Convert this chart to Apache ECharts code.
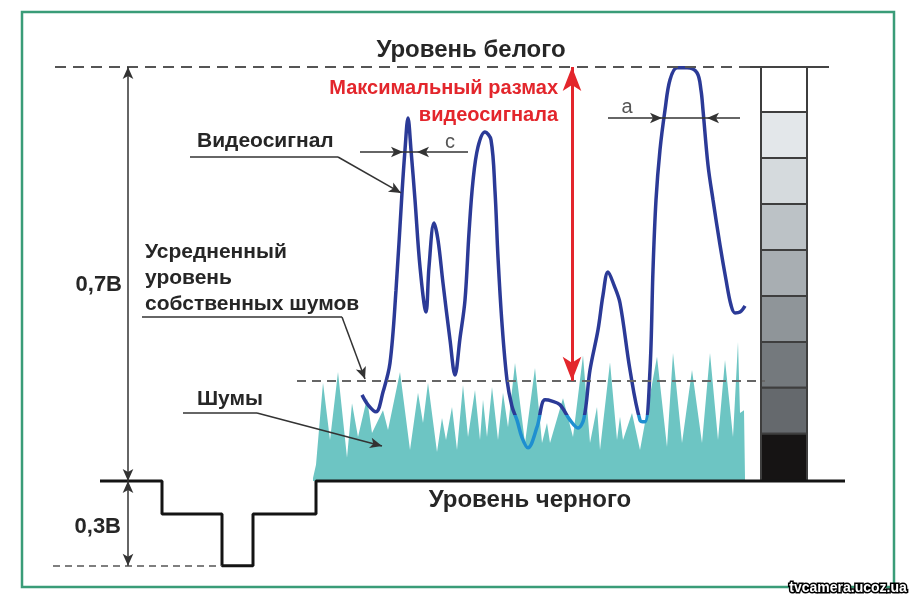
<!DOCTYPE html>
<html><head><meta charset="utf-8">
<script src="https://cdn.jsdelivr.net/npm/echarts@6/dist/echarts.min.js"></script>
<style>html,body{margin:0;padding:0;background:#fff;}#c{width:909px;height:597px;}</style>
</head><body><div id="c"></div>
<script>
// Horizontal axis: time along the TV line (arbitrary units). Vertical axis: level in IRE (black = 0, white = 100).
const signalPoints = [
  [362,20.8],[368,18.4],[376,16.7],[383,21.5],[390,28.5],[396,46.1],[402,69.6],[405,80],[408,87.7],[411,80],
  [415,67.9],[420,51.7],[426,40.8],[429,51.7],[434,62.3],[438,58.2],[443,47.8],[450,34.1],[455,25.6],[460,34.5],
  [465,43.7],[469,60],[473,72.5],[478,80.7],[485,84.3],[491,82.4],[495,70],[498,54],[502,38],[507,24.4],
  [512,18],[517,14.7],[522,10.5],[528,8],[537,13],[545,19.6],[552,19.3],[560,18.4],[570,14.7],[578,12.8],
  [584,15.2],[590,26.8],[598,36.5],[603,44.9],[608,50.5],[614,47.3],[620,43],[630,26.8],[640,14.7],[645,14.3],
  [650,26.8],[653,51],[656,67.9],[660,80],[665,89.6],[670,96.9],[677,99.8],[687,99.8],[697,98.6],[701,94.4],
  [703,89.6],[708,76.3],[713,67.9],[720,57],[726,48.6],[731,42.5],[735,40.6],[740,40.8],[745,42.3]
];
const noisePoints = [
  [313,0.7],[316,3.9],[323,23.7],[330,9.9],[338,26.3],[347,5.6],[352,18.8],[358,10.6],[367,20],[372,11.6],
  [383,17.1],[388,12.3],[400,26.3],[410,7.5],[418,21.3],[423,14],[428,23.7],[437,7],[442,15.2],[446,9.9],
  [452,17.9],[457,7.5],[463,23.2],[468,10.6],[475,22],[480,9.9],[483,19.6],[487,10.6],[492,22.7],[498,9.9],
  [503,21.3],[508,13],[515,28.5],[525,9.2],[535,27.3],[542,9.2],[547,14],[550,9.2],[563,20],[573,10.6],
  [583,30.4],[590,9.2],[597,17.9],[600,7.5],[610,28.7],[617,9.9],[620,15.5],[623,9.9],[632,16.4],[640,7.5],
  [657,30],[667,8.2],[673,30.9],[682,9.2],[692,26.8],[702,9.2],[710,30.9],[718,9.9],[725,29.2],[733,10.6],
  [738,33.6],[740,16.4],[744,17.1],[745,0.7]
];
const syncPoints = [[100,0],[162,0],[162,-8],[222,-8],[222,-20.5],[253,-20.5],[253,-8],[316,-8],[316,0],[845,0]];
const whiteLevel = 100;
const blackLevel = 0;
const noiseLevel = 24.2;
const syncTip = -20.5;
const grayBounds = [100, 89.1, 78.0, 66.9, 55.8, 44.7, 33.6, 22.5, 11.4, 0];
const grayColors = ['#ffffff','#e3e7ea','#d5dadd','#bcc2c6','#a8aeb2','#8f9599','#74797d','#65696d','#161414'];
const grayBarT = [761, 807];

const FONT = "'Liberation Sans', Arial, sans-serif";
const TXT = '#262626';

const grayData = grayColors.map((c, i) => [grayBarT[0], grayBarT[1], grayBounds[i], grayBounds[i + 1], i]);

function seg(a, b, s1, s2, size, style) {
  return [
    { coord: a, symbol: s1, symbolSize: size },
    { coord: b, symbol: s2, symbolSize: size, lineStyle: style }
  ];
}
const thin = { color: '#333', width: 1.5, type: 'solid' };
const AR = [8, 12];

const chart = echarts.init(document.getElementById('c'));
chart.setOption({
  animation: false,
  backgroundColor: '#ffffff',
  grid: { left: 0, right: 0, top: 0, bottom: 0 },
  xAxis: { type: 'value', min: 0, max: 909, show: false },
  yAxis: { type: 'value', min: -28.02, max: 116.18, show: false },
  visualMap: {
    show: false, type: 'piecewise', seriesIndex: 2, dimension: 1,
    pieces: [{ gte: -30, lt: 16, color: '#1e8fd0' }, { gte: 16, lte: 120, color: '#2b3a97' }]
  },
  series: [
    {
      type: 'custom', z: 1, silent: true,
      encode: { x: [0, 1], y: [2, 3] },
      data: grayData,
      renderItem(params, api) {
        const p0 = api.coord([api.value(0), api.value(2)]);
        const p1 = api.coord([api.value(1), api.value(3)]);
        return { type: 'rect', shape: { x: p0[0], y: p0[1], width: p1[0] - p0[0], height: p1[1] - p0[1] },
          style: { fill: grayColors[api.value(4)], stroke: '#3e3e3e', lineWidth: 2 } };
      }
    },
    {
      type: 'line', z: 2, silent: true, data: noisePoints, showSymbol: false, symbol: 'none',
      lineStyle: { width: 0 }, areaStyle: { color: '#6dc5c3', opacity: 1 }
    },
    {
      type: 'line', z: 3, silent: true, data: signalPoints, smooth: 0.35, showSymbol: false, symbol: 'none',
      lineStyle: { width: 3.5 }
    },
    {
      type: 'line', z: 4, silent: true, data: syncPoints, showSymbol: false, symbol: 'none',
      lineStyle: { color: '#141414', width: 3 },
      markLine: {
        silent: true, animation: false, label: { show: false }, emphasis: { disabled: true },
        data: [
          seg([55, whiteLevel], [775, whiteLevel], 'none', 'none', 0, { color: '#555', width: 2, type: [11, 7] }),
          seg([750, whiteLevel], [829, whiteLevel], 'none', 'none', 0, { color: '#444', width: 2, type: 'solid' }),
          seg([297, noiseLevel], [765, noiseLevel], 'none', 'none', 0, { color: '#666', width: 2, type: [9, 6] }),
          seg([53, syncTip], [222, syncTip], 'none', 'none', 0, { color: '#555', width: 1.5, type: [7, 5] }),
          seg([128, whiteLevel], [128, blackLevel], 'arrow', 'arrow', AR, thin),
          seg([128, blackLevel], [128, syncTip], 'arrow', 'arrow', AR, thin),
          seg([572, whiteLevel], [572, noiseLevel], 'arrow', 'arrow', [14, 24], { color: '#e3262c', width: 3, type: 'solid' }),
          seg([190, 78.26], [338, 78.26], 'none', 'none', 0, thin),
          seg([338, 78.26], [401, 69.57], 'none', 'arrow', AR, thin),
          seg([142, 39.61], [342, 39.61], 'none', 'none', 0, thin),
          seg([342, 39.61], [365, 24.64], 'none', 'arrow', AR, thin),
          seg([183, 16.43], [257, 16.43], 'none', 'none', 0, thin),
          seg([257, 16.43], [382, 8.45], 'none', 'arrow', AR, thin),
          seg([360, 79.47], [403, 79.47], 'none', 'arrow', AR, thin),
          seg([403, 79.47], [417, 79.47], 'none', 'none', 0, thin),
          seg([468, 79.47], [417, 79.47], 'none', 'arrow', AR, thin),
          seg([608, 87.68], [662, 87.68], 'none', 'arrow', AR, thin),
          seg([662, 87.68], [707, 87.68], 'none', 'none', 0, thin),
          seg([740, 87.68], [707, 87.68], 'none', 'arrow', AR, thin)
        ]
      }
    }
  ],
  graphic: [
    { type: 'rect', z: 100, shape: { x: 22, y: 12, width: 872, height: 575 },
      style: { fill: 'none', stroke: '#3a9c78', lineWidth: 2.5 } },
    { type: 'text', z: 100, x: 471, y: 50, style: { text: 'Уровень белого', font: 'bold 24px ' + FONT, fill: TXT, align: 'center', verticalAlign: 'middle' } },
    { type: 'text', z: 100, x: 530, y: 500, style: { text: 'Уровень черного', font: 'bold 24px ' + FONT, fill: TXT, align: 'center', verticalAlign: 'middle' } },
    { type: 'text', z: 100, x: 558, y: 88, style: { text: 'Максимальный размах', font: 'bold 20px ' + FONT, fill: '#e3262c', align: 'right', verticalAlign: 'middle' } },
    { type: 'text', z: 100, x: 558, y: 115, style: { text: 'видеосигнала', font: 'bold 20px ' + FONT, fill: '#e3262c', align: 'right', verticalAlign: 'middle' } },
    { type: 'text', z: 100, x: 197, y: 141, style: { text: 'Видеосигнал', font: 'bold 21px ' + FONT, fill: TXT, align: 'left', verticalAlign: 'middle' } },
    { type: 'text', z: 100, x: 145, y: 252, style: { text: 'Усредненный', font: 'bold 21px ' + FONT, fill: TXT, align: 'left', verticalAlign: 'middle' } },
    { type: 'text', z: 100, x: 145, y: 278, style: { text: 'уровень', font: 'bold 21px ' + FONT, fill: TXT, align: 'left', verticalAlign: 'middle' } },
    { type: 'text', z: 100, x: 145, y: 304, style: { text: 'собственных шумов', font: 'bold 21px ' + FONT, fill: TXT, align: 'left', verticalAlign: 'middle' } },
    { type: 'text', z: 100, x: 197, y: 399, style: { text: 'Шумы', font: 'bold 21px ' + FONT, fill: TXT, align: 'left', verticalAlign: 'middle' } },
    { type: 'text', z: 100, x: 122, y: 285, style: { text: '0,7В', font: 'bold 22px ' + FONT, fill: TXT, align: 'right', verticalAlign: 'middle' } },
    { type: 'text', z: 100, x: 121, y: 527, style: { text: '0,3В', font: 'bold 22px ' + FONT, fill: TXT, align: 'right', verticalAlign: 'middle' } },
    { type: 'text', z: 100, x: 450, y: 142, style: { text: 'c', font: '20px ' + FONT, fill: '#555', align: 'center', verticalAlign: 'middle' } },
    { type: 'text', z: 100, x: 627, y: 107, style: { text: 'a', font: '20px ' + FONT, fill: '#555', align: 'center', verticalAlign: 'middle' } },
    { type: 'text', z: 101, x: 848, y: 588, style: { text: 'tvcamera.ucoz.ua', font: 'bold 14px ' + FONT, fill: '#ffffff', stroke: '#000', lineWidth: 3, strokeFirst: true, align: 'center', verticalAlign: 'middle' } }
  ]
});
</script></body></html>
